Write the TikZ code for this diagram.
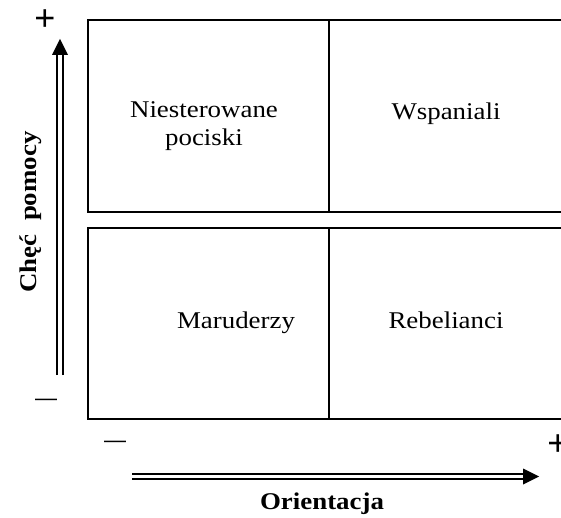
\documentclass[tikz,border=0pt]{standalone}
\usepackage{fontspec}
\setmainfont{Liberation Serif}[FakeStretch=1.12]
\newfontfamily\signfont{Liberation Sans}
\begin{document}
\begin{tikzpicture}[x=1pt,y=-1pt,
  frame/.style={line width=2pt},
  shaft/.style={line width=2pt},
  head/.style={fill=black},
  cell/.style={font=\fontsize{24}{29}\selectfont, align=center, anchor=base},
  axis/.style={font=\bfseries\fontsize{24}{29}\selectfont, anchor=base},
  sign/.style={font=\signfont\fontsize{36}{38}\selectfont, inner sep=0pt}]
\useasboundingbox (0,0) rectangle (561,518);
\clip (0,0) rectangle (561,518);

% quadrant frames (they run past the right edge)
\draw[frame] (600,20) -- (88,20) -- (88,212) -- (600,212);
\draw[frame] (600,228) -- (88,228) -- (88,419) -- (600,419);
\draw[frame] (329,20) -- (329,212);
\draw[frame] (329,228) -- (329,419);

% cell labels
\node[cell] (tl1) at (204,118) {Niesterowane};
\node[cell] (tl2) at (204,146) {pociski};
\node[cell] (tr) at (446,120) {Wspaniali};
\node[cell] (bl) at (236,328) {Maruderzy};
\node[cell] (br) at (446,328) {Rebelianci};

% vertical axis: double shaft with a solid head
\coordinate (vbot) at (60,375);
\coordinate (vbase) at (60,55);
\coordinate (vtip) at (60,39);
\draw[shaft] ([xshift=-3.2]vbot) -- ([xshift=-3.2]vbase);
\draw[shaft] ([xshift=3.2]vbot) -- ([xshift=3.2]vbase);
\fill[head] (vtip) -- ([xshift=-8]vbase) -- ([xshift=8]vbase) -- cycle;

% horizontal axis: double shaft with a solid head
\coordinate (hleft) at (132,476.5);
\coordinate (hbase) at (523,476.5);
\coordinate (htip) at (539,476.5);
\draw[shaft] ([yshift=-2.8]hleft) -- ([yshift=-2.8]hbase);
\draw[shaft] ([yshift=2.8]hleft) -- ([yshift=2.8]hbase);
\fill[head] (htip) -- ([yshift=-8]hbase) -- ([yshift=8]hbase) -- cycle;

% axis end signs
\node[sign] (vplus) at (45,20) {+};
\node[sign] (vminus) at (46,402) {\fontsize{22}{24}\selectfont —};
\node[sign] (hminus) at (115,444) {\fontsize{22}{24}\selectfont —};
\node[sign] (hplus) at (558,445) {+};

% axis titles
\node[axis] (xlab) at (322,509) {Orientacja};
\node[axis, rotate=90] (ylab) at (36,212) {Chęć\ \ pomocy};
\end{tikzpicture}
\end{document}
